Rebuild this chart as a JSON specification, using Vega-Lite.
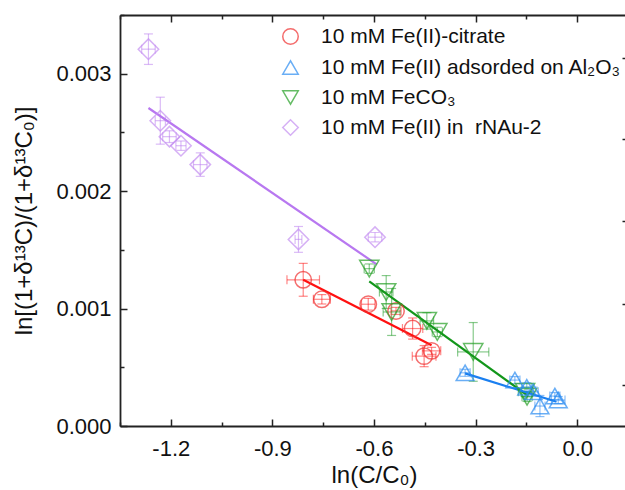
{
  "$schema": "https://vega.github.io/schema/vega-lite/v6.json",
  "width": 508,
  "height": 411,
  "autosize": {"type": "none"},
  "padding": {"left": 120, "top": 15, "right": 0, "bottom": 64},
  "background": "white",
  "config": {
    "view": {"stroke": null},
    "font": "Liberation Sans",
    "axis": {
      "grid": false,
      "domainColor": "#222222",
      "domainWidth": 1.8,
      "tickColor": "#222222",
      "tickWidth": 1.5,
      "labelFont": "Liberation Sans",
      "labelFontSize": 22,
      "labelColor": "#111111",
      "titleFont": "Liberation Sans",
      "titleFontSize": 24,
      "titleFontWeight": "normal",
      "titleColor": "#111111",
      "labelFlush": false,
      "labelOverlap": false
    }
  },
  "datasets": {
    "pts": [
      {"series": "10 mM Fe(II) in\u00a0 rNAu-2", "key": "rnau", "x": -1.266, "y": 0.003209, "xlo": -1.286, "xhi": -1.246, "ylo": 0.003079, "yhi": 0.003339},
      {"series": "10 mM Fe(II) in\u00a0 rNAu-2", "key": "rnau", "x": -1.231, "y": 0.0026, "xlo": -1.246, "xhi": -1.216, "ylo": 0.0024, "yhi": 0.0028},
      {"series": "10 mM Fe(II) in\u00a0 rNAu-2", "key": "rnau", "x": -1.204, "y": 0.002464, "xlo": -1.224, "xhi": -1.184, "ylo": 0.002414, "yhi": 0.002514},
      {"series": "10 mM Fe(II) in\u00a0 rNAu-2", "key": "rnau", "x": -1.17, "y": 0.002387, "xlo": -1.185, "xhi": -1.155, "ylo": 0.002347, "yhi": 0.002427},
      {"series": "10 mM Fe(II) in\u00a0 rNAu-2", "key": "rnau", "x": -1.113, "y": 0.002226, "xlo": -1.133, "xhi": -1.093, "ylo": 0.002126, "yhi": 0.002326},
      {"series": "10 mM Fe(II) in\u00a0 rNAu-2", "key": "rnau", "x": -0.823, "y": 0.001589, "xlo": -0.833, "xhi": -0.813, "ylo": 0.001479, "yhi": 0.001699},
      {"series": "10 mM Fe(II) in\u00a0 rNAu-2", "key": "rnau", "x": -0.597, "y": 0.001608, "xlo": -0.617, "xhi": -0.577, "ylo": 0.001568, "yhi": 0.001648},
      {"series": "10 mM Fe(II)-citrate", "key": "cit", "x": -0.809, "y": 0.001245, "xlo": -0.857, "xhi": -0.761, "ylo": 0.001105, "yhi": 0.001385},
      {"series": "10 mM Fe(II)-citrate", "key": "cit", "x": -0.754, "y": 0.001079, "xlo": -0.779, "xhi": -0.729, "ylo": 0.001039, "yhi": 0.001119},
      {"series": "10 mM Fe(II)-citrate", "key": "cit", "x": -0.617, "y": 0.001037, "xlo": -0.637, "xhi": -0.597, "ylo": 0.000987, "yhi": 0.001087},
      {"series": "10 mM Fe(II)-citrate", "key": "cit", "x": -0.535, "y": 0.00098, "xlo": -0.55, "xhi": -0.52, "ylo": 0.00095, "yhi": 0.00101},
      {"series": "10 mM Fe(II)-citrate", "key": "cit", "x": -0.486, "y": 0.00083, "xlo": -0.516, "xhi": -0.456, "ylo": 0.00074, "yhi": 0.00092},
      {"series": "10 mM Fe(II)-citrate", "key": "cit", "x": -0.452, "y": 0.000595, "xlo": -0.487, "xhi": -0.417, "ylo": 0.000505, "yhi": 0.000685},
      {"series": "10 mM Fe(II)-citrate", "key": "cit", "x": -0.43, "y": 0.00064, "xlo": -0.457, "xhi": -0.403, "ylo": 0.00061, "yhi": 0.00067},
      {"series": "10 mM FeCO₃", "key": "co3", "x": -0.614, "y": 0.00134, "xlo": -0.629, "xhi": -0.599, "ylo": 0.0013, "yhi": 0.00138},
      {"series": "10 mM FeCO₃", "key": "co3", "x": -0.564, "y": 0.001141, "xlo": -0.584, "xhi": -0.544, "ylo": 0.001001, "yhi": 0.001281},
      {"series": "10 mM FeCO₃", "key": "co3", "x": -0.548, "y": 0.000971, "xlo": -0.573, "xhi": -0.523, "ylo": 0.000771, "yhi": 0.001171},
      {"series": "10 mM FeCO₃", "key": "co3", "x": -0.444, "y": 0.000895, "xlo": -0.464, "xhi": -0.424, "ylo": 0.000825, "yhi": 0.000965},
      {"series": "10 mM FeCO₃", "key": "co3", "x": -0.413, "y": 0.000801, "xlo": -0.428, "xhi": -0.398, "ylo": 0.000761, "yhi": 0.000841},
      {"series": "10 mM FeCO₃", "key": "co3", "x": -0.307, "y": 0.000631, "xlo": -0.353, "xhi": -0.261, "ylo": 0.000381, "yhi": 0.000881},
      {"series": "10 mM FeCO₃", "key": "co3", "x": -0.154, "y": 0.000291, "xlo": -0.174, "xhi": -0.134, "ylo": 0.000251, "yhi": 0.000331},
      {"series": "10 mM FeCO₃", "key": "co3", "x": -0.148, "y": 0.000249, "xlo": -0.163, "xhi": -0.133, "ylo": 0.000209, "yhi": 0.000289},
      {"series": "10 mM Fe(II) adsorded on Al₂O₃", "key": "al", "x": -0.331, "y": 0.000453, "xlo": -0.346, "xhi": -0.316, "ylo": 0.000423, "yhi": 0.000483},
      {"series": "10 mM Fe(II) adsorded on Al₂O₃", "key": "al", "x": -0.184, "y": 0.000391, "xlo": -0.199, "xhi": -0.169, "ylo": 0.000361, "yhi": 0.000421},
      {"series": "10 mM Fe(II) adsorded on Al₂O₃", "key": "al", "x": -0.149, "y": 0.000329, "xlo": -0.164, "xhi": -0.134, "ylo": 0.000289, "yhi": 0.000369},
      {"series": "10 mM Fe(II) adsorded on Al₂O₃", "key": "al", "x": -0.13, "y": 0.000291, "xlo": -0.145, "xhi": -0.115, "ylo": 0.000251, "yhi": 0.000331},
      {"series": "10 mM Fe(II) adsorded on Al₂O₃", "key": "al", "x": -0.11, "y": 0.00017, "xlo": -0.125, "xhi": -0.095, "ylo": 0.00008, "yhi": 0.00026},
      {"series": "10 mM Fe(II) adsorded on Al₂O₃", "key": "al", "x": -0.066, "y": 0.000255, "xlo": -0.081, "xhi": -0.051, "ylo": 0.000225, "yhi": 0.000285},
      {"series": "10 mM Fe(II) adsorded on Al₂O₃", "key": "al", "x": -0.056, "y": 0.000221, "xlo": -0.076, "xhi": -0.036, "ylo": 0.000191, "yhi": 0.000251}
    ],
    "fit": [
      {"key": "rnau", "x": -1.266, "y": 0.002708},
      {"key": "rnau", "x": -0.592, "y": 0.001376},
      {"key": "cit", "x": -0.809, "y": 0.001246},
      {"key": "cit", "x": -0.43, "y": 0.000688},
      {"key": "co3", "x": -0.614, "y": 0.001232},
      {"key": "co3", "x": -0.148, "y": 0.000263},
      {"key": "al", "x": -0.331, "y": 0.000448},
      {"key": "al", "x": -0.061, "y": 0.000207}
    ]
  },
  "layer": [
    {
      "data": {"name": "pts"},
      "mark": {"type": "rule", "strokeWidth": 1.2, "opacity": 0.5},
      "encoding": {
        "x": {"field": "x", "type": "quantitative", "scale": {"domain": [-1.35, 0.15], "nice": false, "zero": false}, "axis": null},
        "y": {"field": "ylo", "type": "quantitative", "scale": {"domain": [0, 0.0035], "nice": false, "zero": false}, "axis": null},
        "y2": {"field": "yhi"},
        "stroke": {"field": "key", "type": "nominal", "legend": null}
      }
    },
    {
      "data": {"name": "pts"},
      "mark": {"type": "tick", "orient": "horizontal", "size": 9, "thickness": 1.2, "opacity": 0.5},
      "encoding": {
        "x": {"field": "x", "type": "quantitative", "axis": null},
        "y": {"field": "ylo", "type": "quantitative", "axis": null},
        "fill": {"field": "key", "type": "nominal", "legend": null, "scale": {"domain": ["cit", "al", "co3", "rnau"], "range": ["#ff1010", "#1a7ff0", "#12961a", "#b878f0"]}}
      }
    },
    {
      "data": {"name": "pts"},
      "mark": {"type": "tick", "orient": "horizontal", "size": 9, "thickness": 1.2, "opacity": 0.5},
      "encoding": {
        "x": {"field": "x", "type": "quantitative", "axis": null},
        "y": {"field": "yhi", "type": "quantitative", "axis": null},
        "fill": {"field": "key", "type": "nominal", "legend": null}
      }
    },
    {
      "data": {"name": "pts"},
      "mark": {"type": "rule", "strokeWidth": 1.2, "opacity": 0.5},
      "encoding": {
        "x": {"field": "xlo", "type": "quantitative", "axis": null},
        "x2": {"field": "xhi"},
        "y": {"field": "y", "type": "quantitative", "axis": null},
        "stroke": {"field": "key", "type": "nominal", "legend": null}
      }
    },
    {
      "data": {"name": "pts"},
      "mark": {"type": "tick", "orient": "vertical", "size": 9, "thickness": 1.2, "opacity": 0.5},
      "encoding": {
        "x": {"field": "xlo", "type": "quantitative", "axis": null},
        "y": {"field": "y", "type": "quantitative", "axis": null},
        "fill": {"field": "key", "type": "nominal", "legend": null}
      }
    },
    {
      "data": {"name": "pts"},
      "mark": {"type": "tick", "orient": "vertical", "size": 9, "thickness": 1.2, "opacity": 0.5},
      "encoding": {
        "x": {"field": "xhi", "type": "quantitative", "axis": null},
        "y": {"field": "y", "type": "quantitative", "axis": null},
        "fill": {"field": "key", "type": "nominal", "legend": null}
      }
    },
    {
      "data": {"name": "fit"},
      "mark": {"type": "line", "strokeWidth": 2.2},
      "encoding": {
        "x": {"field": "x", "type": "quantitative", "axis": {"orient": "top", "labels": false, "title": null, "values": [-1.35, -1.2, -1.05, -0.9, -0.75, -0.6, -0.45, -0.3, -0.15, 0, 0.15], "tickSize": {"condition": {"test": "abs(datum.value*10/3 - round(datum.value*10/3)) < 0.001", "value": -7}, "value": -4}}},
        "y": {"field": "y", "type": "quantitative", "axis": {"orient": "right", "labels": false, "title": null, "values": [0.000348, 0.001042, 0.00175, 0.002444, 0.003138], "tickSize": -6}},
        "stroke": {"field": "key", "type": "nominal", "legend": null, "scale": {"domain": ["cit", "al", "co3", "rnau"], "range": ["#ff1010", "#1a7ff0", "#12961a", "#b878f0"]}}
      }
    },
    {
      "data": {"name": "pts"},
      "mark": {"type": "point", "filled": false, "strokeWidth": 1.5},
      "encoding": {
        "x": {"field": "x", "type": "quantitative", "axis": {"orient": "bottom", "title": "ln(C/C₀)", "titlePadding": 1, "labelPadding": 19, "values": [-1.35, -1.2, -1.05, -0.9, -0.75, -0.6, -0.45, -0.3, -0.15, 0, 0.15], "tickSize": {"condition": {"test": "abs(datum.value*10/3 - round(datum.value*10/3)) < 0.001", "value": -7}, "value": -4}, "labelExpr": "abs(datum.value*10/3 - round(datum.value*10/3)) < 0.001 ? (datum.value < -0.0001 ? '-' : '') + format(abs(datum.value), '.1f') : ''"}},
        "y": {"field": "y", "type": "quantitative", "axis": {"orient": "left", "title": "ln[(1+δ¹³C)/(1+δ¹³C₀)]", "titlePadding": 19, "labelPadding": 16, "values": [0, 0.0005, 0.001, 0.0015, 0.002, 0.0025, 0.003, 0.0035], "tickSize": {"condition": {"test": "abs(datum.value*1000 - round(datum.value*1000)) < 0.001", "value": -7}, "value": -4}, "labelExpr": "abs(datum.value*1000 - round(datum.value*1000)) < 0.001 ? format(datum.value, '.3f') : ''"}},
        "color": {"field": "series", "type": "nominal", "scale": {"domain": ["10 mM Fe(II)-citrate", "10 mM Fe(II) adsorded on Al₂O₃", "10 mM FeCO₃", "10 mM Fe(II) in\u00a0 rNAu-2"], "range": ["#f03030", "#2b8cf2", "#25a025", "#c590f2"]}, "legend": {"orient": "none", "legendX": 160, "legendY": 11, "title": null, "labelFont": "Liberation Sans", "labelFontSize": 21, "labelColor": "#111111", "symbolSize": 240, "symbolStrokeWidth": 1.5, "labelOffset": 20, "rowPadding": 8, "padding": 0, "labelLimit": 400}},
        "shape": {"field": "series", "type": "nominal", "scale": {"domain": ["10 mM Fe(II)-citrate", "10 mM Fe(II) adsorded on Al₂O₃", "10 mM FeCO₃", "10 mM Fe(II) in\u00a0 rNAu-2"], "range": ["circle", "triangle-up", "triangle-down", "diamond"]}},
        "size": {"field": "key", "type": "nominal", "legend": null, "scale": {"domain": ["cit", "al", "co3", "rnau"], "range": [270, 420, 420, 420]}}
      }
    }
  ],
  "resolve": {"axis": {"x": "independent", "y": "independent"}}
}
